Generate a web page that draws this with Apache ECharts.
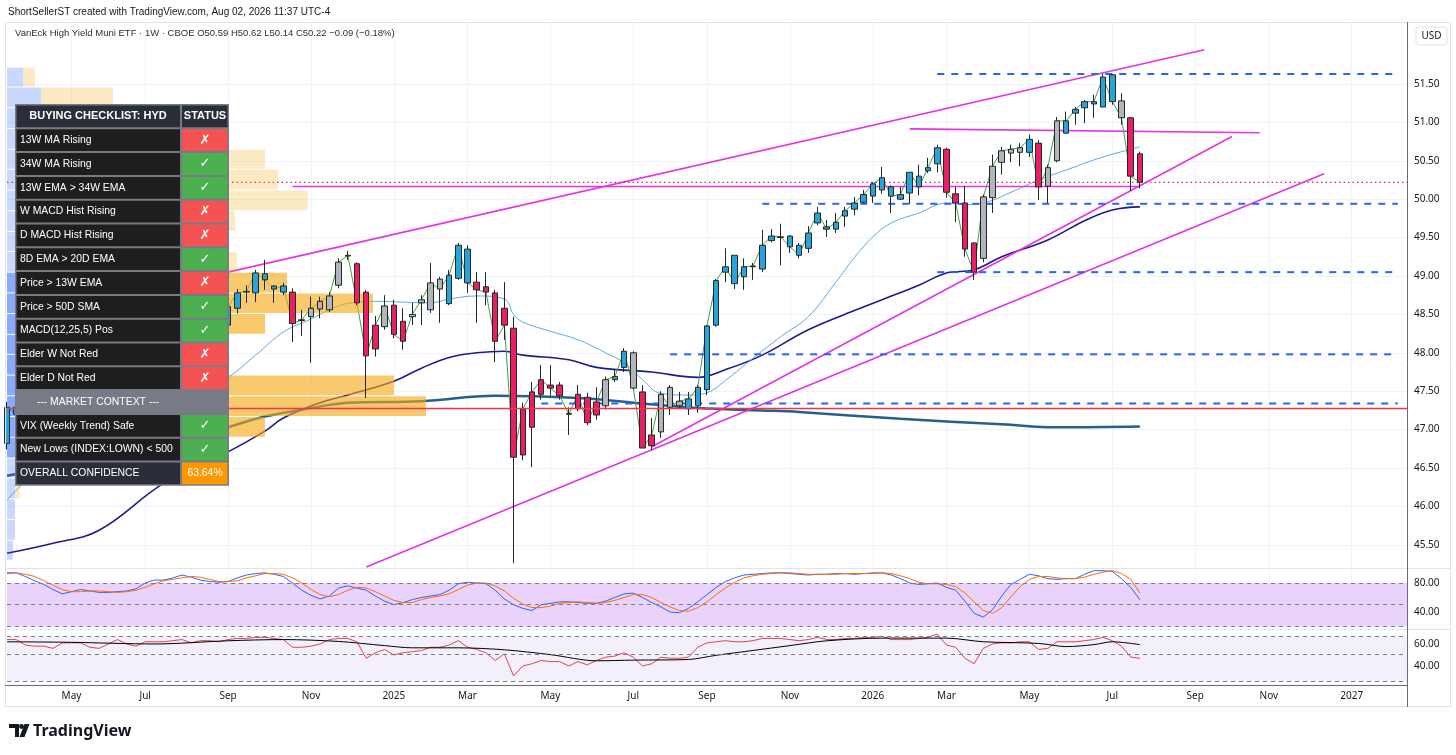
<!DOCTYPE html>
<html>
<head>
<meta charset="utf-8">
<title>HYD 1W</title>
<script src="https://cdn.jsdelivr.net/npm/echarts@6/dist/echarts.min.js"></script>
<style>
html, body { margin: 0; padding: 0; background: #ffffff; }
#chart { width: 1456px; height: 755px; }
</style>
</head>
<body>
<div id="chart"></div>
<script>
// ----------- 数据 - start -----------
// 周线从 2024-03-18 开始, 类目一直延伸到 2027-02
var firstWeek = Date.UTC(2024, 2, 18)
var weekCount = 153

// O, H, L, C, impulse (b 蓝 / r 红 / g 灰)
var candles = [
  [46.82, 47.36, 46.74, 47.29, 'b'],
  [47.29, 47.38, 47.12, 47.20, 'b'],
  [47.20, 47.28, 46.98, 47.05, 'b'],
  [47.05, 47.12, 46.88, 46.95, 'g'],
  [46.95, 47.08, 46.87, 47.00, 'g'],
  [47.00, 47.06, 46.83, 46.90, 'r'],
  [46.90, 46.98, 46.76, 46.85, 'r'],
  [46.85, 47.12, 46.80, 47.05, 'g'],
  [47.05, 47.28, 47.00, 47.20, 'b'],
  [47.20, 47.26, 47.08, 47.15, 'b'],
  [47.15, 47.22, 47.02, 47.10, 'g'],
  [47.10, 47.22, 47.04, 47.15, 'g'],
  [47.15, 47.31, 47.10, 47.25, 'b'],
  [47.25, 47.38, 47.18, 47.30, 'b'],
  [47.30, 47.52, 47.25, 47.45, 'b'],
  [47.45, 47.76, 47.40, 47.70, 'b'],
  [47.70, 47.88, 47.63, 47.80, 'b'],
  [47.80, 47.92, 47.72, 47.85, 'b'],
  [47.85, 48.06, 47.80, 48.00, 'b'],
  [48.00, 48.22, 47.95, 48.15, 'b'],
  [48.15, 48.20, 48.02, 48.10, 'b'],
  [48.10, 48.16, 47.98, 48.05, 'g'],
  [48.05, 48.22, 48.00, 48.15, 'g'],
  [48.15, 48.42, 48.10, 48.36, 'b'],
  [48.36, 48.66, 48.30, 48.60, 'b'],
  [48.58, 48.83, 48.51, 48.78, 'b'],
  [48.79, 48.88, 48.65, 48.80, 'b'],
  [48.78, 49.08, 48.66, 49.04, 'b'],
  [49.03, 49.21, 48.82, 48.95, 'b'],
  [48.87, 48.88, 48.65, 48.83, 'b'],
  [48.79, 48.91, 48.75, 48.87, 'b'],
  [48.79, 48.84, 48.14, 48.38, 'r'],
  [48.42, 48.56, 48.22, 48.43, 'g'],
  [48.47, 48.73, 47.87, 48.58, 'g'],
  [48.57, 48.73, 48.45, 48.67, 'g'],
  [48.56, 48.79, 48.53, 48.74, 'g'],
  [48.88, 49.23, 48.84, 49.18, 'g'],
  [49.26, 49.33, 49.21, 49.27, 'g'],
  [49.16, 49.18, 48.62, 48.65, 'r'],
  [48.79, 48.82, 47.41, 47.96, 'r'],
  [48.05, 48.48, 47.95, 48.36, 'r'],
  [48.34, 48.75, 48.30, 48.61, 'g'],
  [48.62, 48.69, 48.19, 48.24, 'r'],
  [48.41, 48.58, 48.04, 48.15, 'r'],
  [48.47, 48.65, 48.36, 48.50, 'g'],
  [48.65, 48.75, 48.36, 48.69, 'g'],
  [48.56, 49.17, 48.52, 48.91, 'g'],
  [48.96, 48.99, 48.39, 48.83, 'g'],
  [48.64, 49.08, 48.62, 49.01, 'b'],
  [48.97, 49.43, 48.95, 49.40, 'b'],
  [49.35, 49.40, 48.78, 48.91, 'b'],
  [48.92, 49.05, 48.39, 48.82, 'r'],
  [48.86, 49.05, 48.62, 48.79, 'r'],
  [48.78, 48.82, 47.88, 48.15, 'r'],
  [48.58, 48.92, 48.17, 48.36, 'r'],
  [48.32, 48.47, 45.26, 46.64, 'r'],
  [46.67, 47.35, 46.60, 47.27, 'r'],
  [47.03, 47.62, 46.51, 47.49, 'r'],
  [47.46, 47.84, 47.39, 47.65, 'r'],
  [47.58, 47.84, 47.44, 47.54, 'r'],
  [47.58, 47.62, 47.39, 47.44, 'r'],
  [47.21, 47.29, 46.93, 47.20, 'g'],
  [47.27, 47.58, 47.24, 47.46, 'r'],
  [47.42, 47.48, 47.06, 47.09, 'r'],
  [47.19, 47.55, 47.13, 47.36, 'r'],
  [47.31, 47.69, 47.26, 47.65, 'g'],
  [47.65, 47.78, 47.62, 47.69, 'b'],
  [47.81, 48.06, 47.75, 48.02, 'b'],
  [48.00, 48.02, 47.52, 47.54, 'g'],
  [47.49, 47.58, 46.76, 46.76, 'r'],
  [46.79, 47.15, 46.73, 46.93, 'r'],
  [46.97, 47.50, 46.89, 47.46, 'g'],
  [47.55, 47.58, 47.19, 47.29, 'g'],
  [47.31, 47.49, 47.28, 47.37, 'g'],
  [47.27, 47.49, 47.19, 47.40, 'b'],
  [47.31, 47.58, 47.22, 47.55, 'b'],
  [47.52, 48.36, 47.45, 48.35, 'b'],
  [48.36, 48.96, 48.34, 48.94, 'b'],
  [49.05, 49.36, 48.92, 49.12, 'b'],
  [49.27, 49.27, 48.83, 48.90, 'b'],
  [48.99, 49.23, 48.82, 49.12, 'b'],
  [49.12, 49.17, 48.95, 49.13, 'b'],
  [49.09, 49.60, 49.05, 49.40, 'b'],
  [49.46, 49.61, 49.44, 49.52, 'b'],
  [49.50, 49.68, 49.14, 49.51, 'b'],
  [49.52, 49.53, 49.30, 49.38, 'b'],
  [49.40, 49.43, 49.23, 49.27, 'b'],
  [49.36, 49.65, 49.30, 49.56, 'b'],
  [49.69, 49.90, 49.66, 49.82, 'b'],
  [49.64, 49.73, 49.51, 49.61, 'b'],
  [49.61, 49.82, 49.56, 49.70, 'b'],
  [49.78, 49.90, 49.64, 49.85, 'b'],
  [49.87, 50.03, 49.79, 49.95, 'b'],
  [49.96, 50.12, 49.95, 50.06, 'b'],
  [50.04, 50.22, 49.95, 50.20, 'b'],
  [50.12, 50.42, 50.07, 50.28, 'b'],
  [50.16, 50.18, 49.82, 50.04, 'b'],
  [50.00, 50.16, 49.99, 50.06, 'b'],
  [50.08, 50.35, 49.94, 50.35, 'b'],
  [50.30, 50.45, 50.05, 50.16, 'b'],
  [50.37, 50.54, 50.34, 50.41, 'b'],
  [50.46, 50.71, 50.35, 50.67, 'b'],
  [50.65, 50.67, 50.02, 50.09, 'r'],
  [50.07, 50.16, 49.70, 49.95, 'r'],
  [49.95, 50.17, 49.25, 49.35, 'r'],
  [49.43, 49.44, 48.95, 49.05, 'r'],
  [49.23, 50.06, 49.18, 50.03, 'g'],
  [50.02, 50.58, 49.82, 50.43, 'g'],
  [50.48, 50.68, 50.32, 50.63, 'g'],
  [50.60, 50.71, 50.48, 50.65, 'g'],
  [50.61, 50.73, 50.43, 50.67, 'g'],
  [50.61, 50.84, 50.55, 50.78, 'b'],
  [50.73, 50.77, 49.99, 50.16, 'r'],
  [50.17, 50.45, 49.95, 50.41, 'g'],
  [50.50, 51.07, 50.48, 51.02, 'g'],
  [50.86, 51.14, 50.85, 51.02, 'b'],
  [51.12, 51.20, 50.97, 51.17, 'b'],
  [51.19, 51.29, 50.99, 51.27, 'b'],
  [51.24, 51.36, 51.06, 51.27, 'b'],
  [51.20, 51.63, 51.20, 51.59, 'b'],
  [51.62, 51.63, 51.23, 51.27, 'b'],
  [51.28, 51.38, 50.97, 51.06, 'g'],
  [51.06, 51.07, 50.11, 50.30, 'r'],
  [50.59, 50.62, 50.14, 50.22, 'r']
]

// 均线 [周序号, 价格]
var ema13 = [[0, 46.08], [2, 46.32], [5, 46.55], [9, 46.85], [13, 47.05], [17, 47.25], [21, 47.50], [24, 47.68],
  [27, 47.97], [30, 48.27], [33, 48.44], [36, 48.61], [38, 48.66], [40, 48.67], [43, 48.66], [46, 48.65],
  [48, 48.70], [51, 48.74], [54, 48.70], [55, 48.50], [56, 48.40], [59, 48.28], [62, 48.17], [65, 48.00],
  [67, 47.87], [69, 47.65], [71, 47.47], [74, 47.45], [76, 47.48], [78, 47.64], [81, 47.93], [84, 48.21],
  [87, 48.47], [90, 48.92], [92, 49.24], [94, 49.51], [96, 49.69], [99, 49.82], [102, 49.95], [104, 49.93],
  [106, 49.95], [109, 50.09], [112, 50.25], [115, 50.38], [119, 50.55], [123, 50.68]]
var ema34 = [[0, 45.39], [5, 45.52], [10, 45.69], [17, 46.30], [24, 46.71], [28, 46.98], [30, 47.15], [34, 47.35],
  [37, 47.45], [42, 47.63], [45, 47.80], [48, 47.94], [51, 48.00], [54, 48.02], [56, 47.97], [61, 47.91],
  [64, 47.81], [70, 47.75], [75, 47.68], [78, 47.78], [82, 47.97], [87, 48.30], [92, 48.55], [95, 48.69],
  [99, 48.88], [102, 49.04], [105, 49.08], [108, 49.25], [113, 49.47], [117, 49.72], [120, 49.86], [123, 49.90]]
var sma200 = [[0, 46.40], [10, 46.62], [17, 46.78], [24, 47.03], [28, 47.17], [33, 47.28], [37, 47.35], [45, 47.37],
  [53, 47.44], [62, 47.41], [68, 47.35], [75, 47.28], [82, 47.25], [86, 47.23], [97, 47.14], [108, 47.07],
  [114, 47.03], [123, 47.04]]

// 画线 [周序号, 价格]
var channelLines = [
  [[24, 49.05], [130, 51.945]],
  [[31, 50.165], [123, 50.165]],
  [[98, 50.915], [136, 50.865]],
  [[70, 46.776], [133, 50.816]],
  [[39, 45.21], [143, 50.33]]
]
var levelLines = [
  [[101, 51.63], [151, 51.63]],
  [[82, 49.94], [151, 49.94]],
  [[101, 49.05], [151, 49.05]],
  [[72, 47.98], [151, 47.98]],
  [[58, 47.34], [151, 47.34]]
]
var supportLine = [[0, 47.275], [152, 47.275]]
var lastPrice = 50.22

// 成交量分布: 下沿, 上沿, 上涨量, 总量, 是否在价值区
var vpLow = [51.46, 51.19, 50.92, 50.65, 50.39, 50.12, 49.85, 49.58, 49.32, 49.05, 48.78, 48.51,
  48.24, 47.98, 47.71, 47.44, 47.17, 46.90, 46.63, 46.37, 46.10, 45.83, 45.56, 45.30]
var vpHigh = [51.72, 51.46, 51.19, 50.92, 50.65, 50.39, 50.12, 49.85, 49.58, 49.32, 49.05, 48.78,
  48.51, 48.24, 47.98, 47.71, 47.44, 47.17, 46.90, 46.63, 46.37, 46.10, 45.83, 45.56]
var vpUp = [16, 34, 10, 9, 8, 8, 8, 8, 8, 8, 9, 10, 10, 10, 10, 9, 9, 9, 8, 8, 8, 8, 8, 6]
var vpTotal = [28, 106, 150, 190, 258, 271, 301, 228, 200, 230, 280, 366, 258, 200, 210, 387, 419, 258, 150, 100, 13, 8, 8, 6]
var vpValueArea = [0, 0, 0, 0, 0, 0, 0, 0, 0, 0, 1, 1, 1, 1, 1, 1, 1, 1, 1, 0, 0, 0, 0, 0]

// 随机指标 %K / %D
var stochK = [
  94, 94, 89, 83, 78, 71, 65, 68, 71, 69,
  67, 67, 68, 69, 72, 80, 84, 84, 87, 91,
  88, 84, 82, 81, 82, 87, 91, 93, 94, 92,
  89, 80, 70, 63, 58, 62, 73, 76, 73, 70,
  62, 55, 50, 53, 57, 60, 62, 64, 70, 79,
  81, 80, 79, 70, 58, 50, 45, 42, 50, 52,
  54, 54, 53, 52, 52, 55, 60, 65, 66, 60,
  53, 47, 40, 39, 45, 54, 64, 74, 82, 87,
  91, 92, 93, 94, 94, 93, 92, 91, 92, 92,
  93, 93, 92, 93, 94, 94, 91, 86, 80, 78,
  79, 80, 74, 70, 55, 38, 33, 43, 62, 78,
  85, 92, 90, 86, 85, 86, 86, 92, 97, 97,
  96, 86, 74, 57]
var stochD = [
  93, 94, 92, 89, 83, 77, 71, 68, 68, 69,
  69, 68, 67, 68, 70, 74, 79, 83, 85, 87,
  89, 88, 85, 82, 82, 83, 87, 90, 93, 93,
  92, 87, 80, 71, 64, 61, 64, 70, 74, 73,
  68, 62, 56, 53, 53, 57, 60, 62, 65, 71,
  77, 80, 80, 76, 69, 59, 51, 46, 46, 48,
  52, 53, 54, 53, 52, 53, 56, 60, 64, 64,
  60, 53, 47, 42, 41, 46, 54, 64, 73, 81,
  87, 90, 92, 93, 94, 94, 93, 92, 92, 92,
  92, 93, 93, 93, 93, 94, 93, 90, 86, 81,
  79, 79, 78, 75, 66, 54, 42, 38, 46, 61,
  75, 85, 89, 89, 87, 86, 86, 88, 92, 95,
  97, 93, 85, 66]

// RSI 与其均线
var rsi = [
  64, 64, 59, 58, 58, 56, 61, 61, 61, 57,
  56, 60, 64, 60, 58, 62, 62, 62, 63, 64,
  61, 63, 63, 62, 64, 65, 65, 66, 66, 65,
  64, 57, 57, 58, 60, 64, 65, 65, 62, 47,
  52, 55, 50, 52, 53, 54, 57, 57, 59, 63,
  57, 55, 52, 45, 51, 31, 40, 42, 45, 44,
  44, 40, 44, 41, 45, 48, 49, 52, 48, 40,
  42, 48, 47, 47, 48, 57, 61, 62, 63, 62,
  62, 63, 65, 65, 65, 64, 63, 64, 66, 64,
  64, 65, 65, 66, 66, 67, 64, 64, 64, 65,
  66, 69, 59, 57, 47, 42, 56, 60, 61, 61,
  62, 62, 55, 56, 62, 62, 62, 63, 64, 66,
  63, 58, 48, 47]
var rsiMa = [[0, 62], [7, 61.5], [16, 60], [24, 62.9], [30, 64], [36, 62.3], [41, 58.5], [44, 56.5], [49, 56.5],
  [54, 54.7], [59, 50.3], [64, 44.7], [68, 45.3], [74, 45.9], [77, 49.7], [81, 54.1], [85, 58.5], [89, 62.9],
  [95, 65.3], [102, 65.3], [106, 62], [112, 60.5], [115, 57.6], [118, 59.4], [120, 62], [123, 59.4]]

// 刻度
var priceTicks = [45.5, 46, 46.5, 47, 47.5, 48, 48.5, 49, 49.5, 50, 50.5, 51, 51.5]
var stochTicks = [40, 80]
var stochLevels = [80, 50, 20]
var rsiTicks = [40, 60]
var rsiLevels = [67, 51, 26]

// 检查表
var checklist = [
  ['13W MA Rising', false],
  ['34W MA Rising', true],
  ['13W EMA > 34W EMA', true],
  ['W MACD Hist Rising', false],
  ['D MACD Hist Rising', false],
  ['8D EMA > 20D EMA', true],
  ['Price > 13W EMA', false],
  ['Price > 50D SMA', true],
  ['MACD(12,25,5) Pos', true],
  ['Elder W Not Red', false],
  ['Elder D Not Red', false]
]
var marketContext = [
  ['VIX (Weekly Trend) Safe', true],
  ['New Lows (INDEX:LOWN) < 500', true]
]
var confidence = '63.64%'
// ----------- 数据 - end -----------

var FONT = 'Noto Sans'
var UIFONT = 'Liberation Sans'
var TEXT = '#131722'
var GRID = '#f0f3fa'
var impulseColor = { b: '#2aa3dd', r: '#e91e63', g: '#b2b5be' }
var monthNames = ['Jan', 'Feb', 'Mar', 'Apr', 'May', 'Jun', 'Jul', 'Aug', 'Sep', 'Oct', 'Nov', 'Dec']

// 周日期
var weeks = []
for (var w = 0; w < weekCount; w++) {
  weeks.push(new Date(firstWeek + w * 7 * 86400000).toISOString().slice(0, 10))
}

function isLabelWeek(value) {
  var d = new Date(value + 'T00:00:00Z')
  return d.getUTCDate() <= 7 && d.getUTCMonth() % 2 === 0
}
function monthLabel(value) {
  var d = new Date(value + 'T00:00:00Z')
  return d.getUTCMonth() === 0 ? String(d.getUTCFullYear()) : monthNames[d.getUTCMonth()]
}

function timeAxis(gridIndex, withLabels) {
  return {
    type: 'category', gridIndex: gridIndex, data: weeks, boundaryGap: false,
    axisLine: { show: false }, axisTick: { show: false },
    axisLabel: {
      show: withLabels, interval: function (i, v) { return isLabelWeek(v) },
      formatter: monthLabel, color: TEXT, fontSize: 10, fontFamily: FONT, margin: 6
    },
    splitLine: { show: true, interval: function (i, v) { return isLabelWeek(v) }, lineStyle: { color: GRID } }
  }
}
function valueAxis(gridIndex, min, max, ticks) {
  return {
    type: 'value', gridIndex: gridIndex, position: 'right', min: min, max: max, scale: true,
    axisLine: { show: false },
    axisTick: { show: false, customValues: ticks },
    axisLabel: { customValues: ticks, color: TEXT, fontSize: 10, fontFamily: FONT, margin: 7,
      formatter: function (v) { return v.toFixed(2) } },
    splitLine: { show: true, lineStyle: { color: GRID } }
  }
}

// K线数据
var candleData = candles.map(function (c) {
  var col = impulseColor[c[4]]
  return { value: [c[0], c[3], c[2], c[1]], itemStyle: { color: col, color0: col } }
})
var closeData = candles.map(function (c) { return c[3] })

function segSeries(points, style, z) {
  return {
    type: 'line', xAxisIndex: 0, yAxisIndex: 0, data: points, symbol: 'none', silent: true,
    lineStyle: style, z: z, animation: false
  }
}

var series = []
// 均线
series.push({ type: 'line', data: sma200, symbol: 'none', smooth: 0.4, lineStyle: { color: '#23608f', width: 2.5 }, z: 2 })
series.push({ type: 'line', data: ema34, symbol: 'none', smooth: 0.4, lineStyle: { color: '#1b1b8f', width: 1.6 }, z: 2 })
series.push({ type: 'line', data: ema13, symbol: 'none', smooth: 0.4, lineStyle: { color: '#5aaae8', width: 1 }, z: 2 })
// 收盘价连线
series.push({ type: 'line', data: closeData, symbol: 'none', lineStyle: { color: '#43a047', width: 1 }, z: 2 })
// 画线
channelLines.forEach(function (l) { series.push(segSeries(l, { color: '#e433e4', width: 1.6 }, 2)) })
levelLines.forEach(function (l) { series.push(segSeries(l, { color: '#2962ff', width: 2, type: [7, 7] }, 2)) })
// 当前价虚线
series.push(segSeries([[0, lastPrice], [152, lastPrice]], { color: '#e91e63', width: 1.2, type: [1.5, 3] }, 2))
// 成交量分布
series.push({
  type: 'custom', xAxisIndex: 3, yAxisIndex: 0, z: 3, silent: true,
  data: vpLow.map(function (lo, i) { return [lo, vpHigh[i], vpUp[i], vpTotal[i], vpValueArea[i]] }),
  encode: { x: [2, 3], y: [0, 1] },
  renderItem: function (params, api) {
    var top = api.coord([0, api.value(1)])
    var mid = api.coord([api.value(2), api.value(0)])
    var end = api.coord([api.value(3), api.value(0)])
    var va = api.value(4) === 1
    var h = mid[1] - top[1] - 1
    return {
      type: 'group', children: [
        { type: 'rect', shape: { x: top[0], y: top[1] + 0.5, width: mid[0] - top[0], height: h },
          style: { fill: va ? 'rgba(41,98,255,0.55)' : 'rgba(41,98,255,0.25)' } },
        { type: 'rect', shape: { x: mid[0], y: top[1] + 0.5, width: end[0] - mid[0], height: h },
          style: { fill: va ? 'rgba(245,170,20,0.62)' : 'rgba(245,170,20,0.25)' } }
      ]
    }
  }
})
// K线
series.push({
  type: 'candlestick', xAxisIndex: 0, yAxisIndex: 0, data: candleData, barWidth: 6, z: 4,
  itemStyle: { borderColor: '#222a22', borderColor0: '#222a22', borderWidth: 1 },
  markLine: {
    silent: true, symbol: 'none', animation: false,
    data: [{ yAxis: lastPrice }],
    lineStyle: { color: '#e91e63', opacity: 0, width: 1 },
    label: {
      show: true, position: 'end', distance: 2, formatter: lastPrice.toFixed(2),
      color: '#ffffff', backgroundColor: '#e91e63', padding: [2, 5, 2, 5], fontSize: 10, fontFamily: FONT
    }
  }
})
series.push(segSeries(supportLine, { color: '#f23645', width: 1.5 }, 5))

// 随机指标
series.push({
  type: 'line', xAxisIndex: 1, yAxisIndex: 1, data: [], z: 1, silent: true,
  markArea: { silent: true, data: [[{ yAxis: 20 }, { yAxis: 80 }]], itemStyle: { color: '#e9d3fb' } },
  markLine: { silent: true, symbol: 'none', label: { show: false },
    data: stochLevels.map(function (v) { return { yAxis: v } }),
    lineStyle: { color: '#787b86', type: [4, 4], width: 1 } }
})
series.push({ type: 'line', xAxisIndex: 1, yAxisIndex: 1, data: stochK, symbol: 'none', lineStyle: { color: '#2962ff', width: 1 }, z: 3 })
series.push({ type: 'line', xAxisIndex: 1, yAxisIndex: 1, data: stochD, symbol: 'none', lineStyle: { color: '#ff6d00', width: 1 }, z: 3 })

// RSI
series.push({
  type: 'line', xAxisIndex: 2, yAxisIndex: 2, data: [], z: 1, silent: true,
  markArea: { silent: true, data: [[{ yAxis: rsiLevels[2] }, { yAxis: rsiLevels[0] }]], itemStyle: { color: '#f3effb' } },
  markLine: { silent: true, symbol: 'none', label: { show: false },
    data: rsiLevels.map(function (v) { return { yAxis: v } }),
    lineStyle: { color: '#787b86', type: [4, 4], width: 1 } }
})
series.push({ type: 'line', xAxisIndex: 2, yAxisIndex: 2, data: rsi, symbol: 'none', lineStyle: { color: '#e0474c', width: 1 }, z: 3 })
series.push({ type: 'line', xAxisIndex: 2, yAxisIndex: 2, data: rsiMa, symbol: 'none', smooth: 0.3, lineStyle: { color: '#000000', width: 1 }, z: 3 })

// ---------------- 图形元素 ----------------
var graphics = []
// 外框与分隔线
graphics.push({ type: 'rect', shape: { x: 5.5, y: 22.5, width: 1445, height: 684 }, style: { fill: 'none', stroke: '#e0e3eb' }, z: 50 })
graphics.push({ type: 'line', shape: { x1: 5, y1: 568.5, x2: 1451, y2: 568.5 }, style: { stroke: '#e0e3eb' }, z: 50 })
graphics.push({ type: 'line', shape: { x1: 5, y1: 629.5, x2: 1451, y2: 629.5 }, style: { stroke: '#e0e3eb' }, z: 50 })
graphics.push({ type: 'line', shape: { x1: 1407.5, y1: 22, x2: 1407.5, y2: 707 }, style: { stroke: '#6a6d78' }, z: 50 })
graphics.push({ type: 'line', shape: { x1: 5, y1: 685.5, x2: 1407, y2: 685.5 }, style: { stroke: '#6a6d78' }, z: 50 })

// 标题
graphics.push({ type: 'text', x: 8, y: 12, z: 50,
  style: { text: 'ShortSellerST created with TradingView.com, Aug 02, 2026 11:37 UTC-4', fill: TEXT, font: '10px "' + UIFONT + '"', verticalAlign: 'middle' } })
graphics.push({ type: 'text', x: 15, y: 33, z: 50,
  style: { text: 'VanEck High Yield Muni ETF · 1W · CBOE O50.59 H50.62 L50.14 C50.22 −0.09 (−0.18%)', fill: '#2a2e39', font: '9.5px "' + UIFONT + '"', verticalAlign: 'middle' } })
// USD
graphics.push({ type: 'rect', shape: { x: 1416, y: 27, width: 31, height: 18, r: 3 }, style: { fill: '#ffffff', stroke: '#e0e3eb' }, z: 50 })
graphics.push({ type: 'text', x: 1431.5, y: 36, z: 51, style: { text: 'USD', fill: TEXT, font: '10px "' + FONT + '"', align: 'center', verticalAlign: 'middle' } })

// TradingView 标志
graphics.push({ type: 'polygon', z: 50, shape: { points: [[9, 724], [19, 724], [19, 737], [15, 737], [15, 728], [9, 728]] }, style: { fill: '#131722' } })
graphics.push({ type: 'circle', z: 50, shape: { cx: 21.5, cy: 726.5, r: 2.4 }, style: { fill: '#131722' } })
graphics.push({ type: 'polygon', z: 50, shape: { points: [[24.5, 724], [29.5, 724], [24.5, 737], [19.5, 737]] }, style: { fill: '#131722' } })
graphics.push({ type: 'text', x: 33, y: 731, z: 50, style: { text: 'TradingView', fill: '#131722', font: 'bold 16px "' + FONT + '"', verticalAlign: 'middle' } })

// 检查表
var tableRows = [{ label: 'BUYING CHECKLIST: HYD', status: 'STATUS', kind: 'head' }]
checklist.forEach(function (c) { tableRows.push({ label: c[0], status: c[1] ? '✓' : '✗', kind: c[1] ? 'ok' : 'bad' }) })
tableRows.push({ label: '--- MARKET CONTEXT ---', status: '', kind: 'section' })
marketContext.forEach(function (c) { tableRows.push({ label: c[0], status: c[1] ? '✓' : '✗', kind: c[1] ? 'ok' : 'bad' }) })
tableRows.push({ label: 'OVERALL CONFIDENCE', status: confidence, kind: 'total' })

var tX = 15, tY = 104, col1 = 166, col2 = 48, rowH = 23.8
var labelFill = { head: '#2a2e39', section: '#787b86', total: '#2a2e39', ok: '#1e1e1e', bad: '#1e1e1e' }
var statusFill = { head: '#2a2e39', section: '#787b86', total: '#ff9800', ok: '#4caf50', bad: '#f55353' }
graphics.push({ type: 'rect', z: 100, shape: { x: tX, y: tY, width: col1 + col2, height: rowH * tableRows.length + 1 }, style: { fill: '#787b86' } })
tableRows.forEach(function (r, i) {
  var y = tY + i * rowH
  graphics.push({ type: 'rect', z: 101, shape: { x: tX + 1.5, y: y + 1.5, width: col1 - 2.5, height: rowH - 2 }, style: { fill: labelFill[r.kind] } })
  graphics.push({ type: 'rect', z: 101, shape: { x: tX + col1 + 1, y: y + 1.5, width: col2 - 2.5, height: rowH - 2 }, style: { fill: statusFill[r.kind] } })
  var centered = r.kind === 'head' || r.kind === 'section'
  var font = r.kind === 'head' ? 'bold 11px "' + UIFONT + '"' : '10.4px "' + UIFONT + '"'
  graphics.push({ type: 'text', z: 102, x: centered ? tX + col1 / 2 : tX + 5, y: y + rowH / 2 + 0.5,
    style: { text: r.label, fill: '#ffffff', font: font, align: centered ? 'center' : 'left', verticalAlign: 'middle' } })
  var glyph = r.kind === 'ok' || r.kind === 'bad'
  graphics.push({ type: 'text', z: 102, x: tX + col1 + col2 / 2, y: y + rowH / 2 + 0.5,
    style: { text: r.status, fill: '#ffffff', font: (glyph ? 'bold 13px "DejaVu Sans"' : font), align: 'center', verticalAlign: 'middle' } })
})

var chart = echarts.init(document.getElementById('chart'))
var option = {
  animation: false,
  backgroundColor: '#ffffff',
  grid: [
    { left: 7, right: 49, top: 22, height: 546 },
    { left: 7, right: 49, top: 569, height: 60 },
    { left: 7, right: 49, top: 630, height: 55 }
  ],
  xAxis: [
    timeAxis(0, false), timeAxis(1, false), timeAxis(2, true),
    { type: 'value', gridIndex: 0, min: 0, max: 1400, show: false }
  ],
  yAxis: [
    valueAxis(0, 45.198, 52.307, priceTicks),
    valueAxis(1, 16.5, 99.3, stochTicks),
    valueAxis(2, 22.7, 72.7, rsiTicks)
  ],
  series: series,
  graphic: { elements: graphics }
}
chart.setOption(option)
</script>
</body>
</html>
